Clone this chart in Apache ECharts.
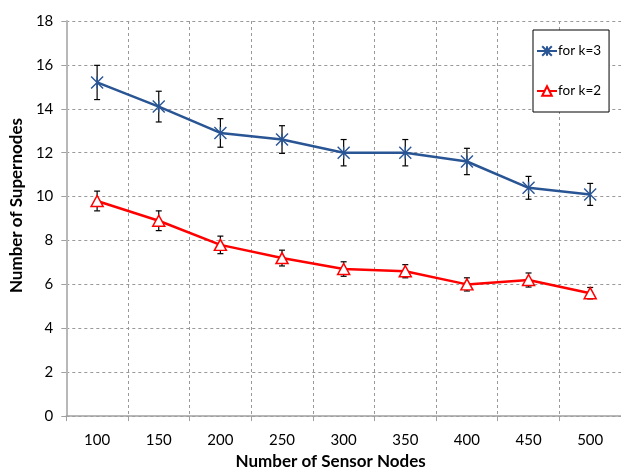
<!DOCTYPE html>
<html>
<head>
<meta charset="utf-8">
<script src="https://cdn.jsdelivr.net/npm/echarts@6/dist/echarts.min.js"></script>
<style>
  html, body { margin: 0; padding: 0; background: #fff; }
  #main { width: 621px; height: 475px; }
</style>
</head>
<body>
<div id="main"></div>
<script>
const categories = ['100', '150', '200', '250', '300', '350', '400', '450', '500'];
const k3Values = [15.2, 14.1, 12.9, 12.6, 12.0, 12.0, 11.6, 10.4, 10.1];
const k3Errors = [0.78, 0.7, 0.65, 0.63, 0.6, 0.6, 0.6, 0.52, 0.5];
const k2Values = [9.8, 8.9, 7.8, 7.2, 6.7, 6.6, 6.0, 6.2, 5.6];
const k2Errors = [0.45, 0.45, 0.4, 0.36, 0.33, 0.3, 0.3, 0.32, 0.26];

const chart = echarts.init(document.getElementById('main'));
const font = 'Lato, "Open Sans", sans-serif';
const blue = '#2a5594';
const red = '#ff0000';
// X-shaped star marker with a short vertical stroke, like the spreadsheet marker
const starPath = 'path://M0,0L10,10M10,0L0,10M5,0L5,10';

function errorBars(values, errors) {
  return values.map((v, i) => [i, v - errors[i], v + errors[i]]);
}

function renderError(params, api) {
  const x = api.value(0);
  const lo = api.coord([x, api.value(1)]);
  const hi = api.coord([x, api.value(2)]);
  const cap = 3;
  const style = { stroke: '#000', lineWidth: 1.2 };
  return {
    type: 'group',
    children: [
      { type: 'line', shape: { x1: lo[0], y1: lo[1], x2: hi[0], y2: hi[1] }, style },
      { type: 'line', shape: { x1: lo[0] - cap, y1: lo[1], x2: lo[0] + cap, y2: lo[1] }, style },
      { type: 'line', shape: { x1: hi[0] - cap, y1: hi[1], x2: hi[0] + cap, y2: hi[1] }, style }
    ]
  };
}

const option = {
  backgroundColor: '#fff',
  animation: false,
  grid: { left: 66, top: 21, width: 561, height: 397 },
  legend: {
    orient: 'vertical',
    left: 533,
    top: 30,
    width: 70,
    height: 80,
    padding: [14, 8, 14, 3],
    itemGap: 26,
    itemWidth: 20,
    itemHeight: 12,
    borderColor: '#000',
    borderWidth: 1,
    backgroundColor: '#fff',
    textStyle: { fontFamily: font, fontSize: 13.5, color: '#000', padding: [0, 0, 0, -4] },
    data: ['for k=3', 'for k=2']
  },
  xAxis: {
    type: 'category',
    data: categories,
    boundaryGap: true,
    name: 'Number of Sensor Nodes',
    nameLocation: 'middle',
    nameGap: 34,
    nameTextStyle: { fontFamily: font, fontSize: 17, fontWeight: 'bold', color: '#000', padding: [0, 26, 0, 0] },
    axisLine: { lineStyle: { color: '#a0a0a0', width: 1.5 } },
    axisTick: { show: true, length: 5, lineStyle: { color: '#a0a0a0' } },
    axisLabel: { fontFamily: font, fontSize: 15, color: '#000', margin: 17 },
    splitLine: { show: true, interval: 0, lineStyle: { color: '#999', type: [3, 3] } }
  },
  yAxis: {
    type: 'value',
    min: 0,
    max: 18,
    interval: 2,
    name: 'Number of Supernodes',
    nameLocation: 'middle',
    nameGap: 40,
    nameTextStyle: { fontFamily: font, fontSize: 17, fontWeight: 'bold', color: '#000', padding: [0, 0, 0, 26] },
    axisLine: { show: true, lineStyle: { color: '#b8b8b8', width: 2 } },
    axisTick: { show: true, length: 5, lineStyle: { color: '#a0a0a0' } },
    axisLabel: { fontFamily: font, fontSize: 15, color: '#000', margin: 13 },
    splitLine: { show: true, lineStyle: { color: '#999', type: [3, 3] } }
  },
  series: [
    {
      type: 'custom',
      name: 'err3',
      renderItem: renderError,
      data: errorBars(k3Values, k3Errors),
      z: 1
    },
    {
      type: 'custom',
      name: 'err2',
      renderItem: renderError,
      data: errorBars(k2Values, k2Errors),
      z: 1
    },
    {
      name: 'for k=3',
      type: 'line',
      data: k3Values,
      symbol: starPath,
      symbolSize: [12, 12],
      lineStyle: { color: blue, width: 2.5 },
      itemStyle: { color: 'rgba(0,0,0,0)', borderColor: blue, borderWidth: 1.4 },
      z: 3
    },
    {
      name: 'for k=2',
      type: 'line',
      data: k2Values,
      symbol: 'triangle',
      symbolSize: [12, 11],
      lineStyle: { color: red, width: 2.5 },
      itemStyle: { color: '#fff', borderColor: red, borderWidth: 1.5 },
      z: 3
    }
  ]
};

chart.setOption(option);
</script>
</body>
</html>
